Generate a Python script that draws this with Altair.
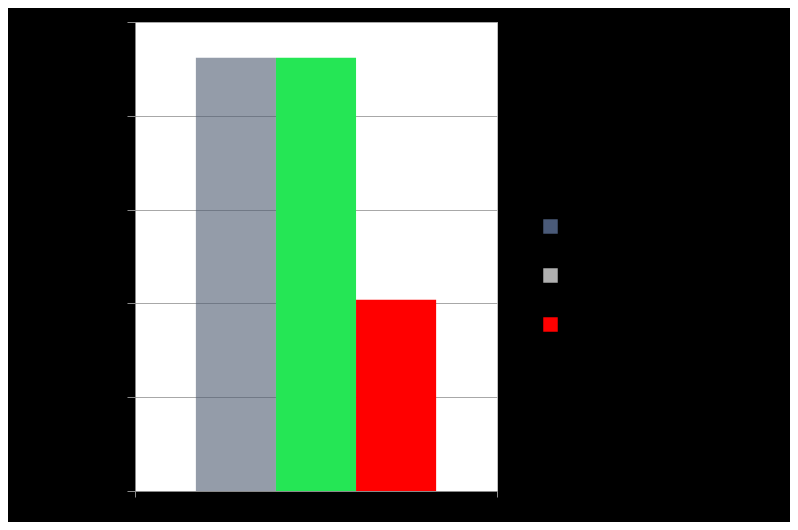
import altair as alt
import pandas as pd

groups = ["Group 1", "Group 1", "Group 1"]
series = ["Series1", "Series2", "Series3"]
values = [4.62, 4.62, 2.04]
bar_colors = ["#4d5a70", "#25e655", "#ff0000"]
bar_opacity = [0.6, 1.0, 1.0]
legend_colors = ["#4a5a78", "#b0b0b0", "#ff0000"]

df = pd.DataFrame({"group": groups, "series": series, "value": values, "op": bar_opacity})

bars = alt.Chart(df).mark_bar(strokeWidth=0).encode(
    x=alt.X("group:N", title=None,
            scale=alt.Scale(paddingInner=0, paddingOuter=0),
            axis=alt.Axis(labels=False, tickBand="extent", domainColor="#8a8a8a",
                          tickColor="#8a8a8a", tickSize=6, grid=False, labelColor="black")),
    xOffset=alt.XOffset("series:N", scale=alt.Scale(paddingInner=0, paddingOuter=0.76)),
    y=alt.Y("value:Q", title=None,
            scale=alt.Scale(domain=[0, 5], nice=False),
            axis=alt.Axis(values=[0, 1, 2, 3, 4, 5], gridColor="#a8a8a8", gridOpacity=1,
                          gridWidth=1.2,
                          domainColor="#8a8a8a", tickColor="#8a8a8a", tickSize=8,
                          labelColor="black")),
    fill=alt.Fill("series:N", scale=alt.Scale(domain=series, range=bar_colors), legend=None),
    opacity=alt.Opacity("op:Q", scale=None, legend=None),
)

legend_layer = alt.Chart(df).mark_point(opacity=0, filled=True, shape="square").encode(
    x=alt.X("group:N"),
    y=alt.Y("value:Q"),
    color=alt.Color("series:N", scale=alt.Scale(domain=series, range=legend_colors),
                    legend=alt.Legend(title=None, orient="none", legendX=408, legendY=197,
                                      symbolType="square", symbolSize=210, symbolOpacity=1,
                                      symbolStrokeWidth=0, rowPadding=34, padding=0,
                                      labelColor="black", labelFontSize=12)),
)

chart = alt.layer(bars, legend_layer).resolve_scale(color="independent", fill="independent").properties(
    width=362, height=469,
    autosize=alt.AutoSizeParams(type="none"),
    padding={"left": 127, "top": 14, "right": 293, "bottom": 31},
    background="black",
).configure_view(fill="white", stroke="#c0c0c0", strokeWidth=1)

chart.save("out.html", embed_options={"renderer": "svg", "actions": False})
